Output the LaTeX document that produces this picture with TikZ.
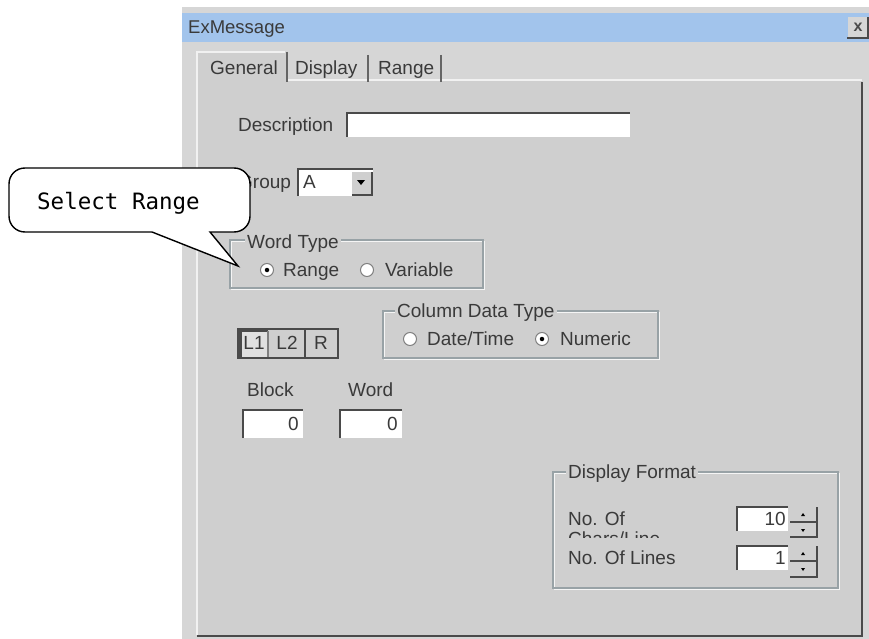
\documentclass[tikz,border=0pt]{standalone}
\usepackage{fontspec}
\setmainfont{Liberation Sans}
\newfontfamily\calloutfont{DejaVu Sans Mono}
\definecolor{framebg}{HTML}{D6D6D6}
\definecolor{panelbg}{HTML}{CFCFCF}
\definecolor{titlebar}{HTML}{A2C4EC}
\definecolor{uitext}{HTML}{3A3A3A}
\definecolor{groupline}{HTML}{98A2A6}
\definecolor{darkedge}{HTML}{4A4A4A}
\definecolor{midedge}{HTML}{808080}
\tikzset{
  uifont/.style={font=\fontsize{19}{19}\selectfont},
  lbl/.style={uifont, text=uitext, anchor=west, inner sep=0pt, text height=13.6pt, text depth=0pt},
  rlbl/.style={lbl, anchor=east},
  clbl/.style={lbl, anchor=center},
  grplbl/.style={lbl, fill=panelbg, inner xsep=2pt, inner ysep=0pt},
  grpbox/.style={draw=groupline, line width=1.2pt},
  grpshine/.style={draw=white!80!panelbg, line width=1pt},
  sunken/.style={draw=darkedge, line width=2pt},
  raised/.style={draw=darkedge, line width=1.5pt},
  radio/.style={circle, fill=white, draw=midedge, line width=1pt, minimum size=13pt, inner sep=0pt},
  radiodot/.style={circle, fill=black, inner sep=0pt, minimum size=4.5pt},
  tabsep/.style={draw=darkedge!85, line width=2pt},
  bubble/.style={draw=black, line width=1.4pt, fill=white},
}
\begin{document}
\begin{tikzpicture}[x=1pt,y=-1pt]
\useasboundingbox (0,0) rectangle (869,639);
\fill[white] (0,0) rectangle (869,639);
% dialog frame and title bar
\fill[framebg] (182,7) rectangle (869,639);
\fill[titlebar] (182,13) rectangle (869,42);
\node[lbl, font=\fontsize{18.5}{18.5}\selectfont] (title) at (188,27) {ExMessage};
% close button
\fill[framebg] (848,17) rectangle (868,38);
\draw[raised] (847,38) -- (868,38) -- (868,17);
\node[font=\bfseries\fontsize{16}{16}\selectfont, text=darkedge, inner sep=0pt] (closex) at (858,27) {x};

% tab panel
\fill[panelbg] (197,80) rectangle (862,635);
\fill[panelbg] (197,52) rectangle (287,82);
\draw[white!70!panelbg, line width=1.5pt] (197,635) -- (197,52) -- (285,52);
\draw[white!70!panelbg, line width=1.5pt] (287,80) -- (862,80);
\draw[darkedge, line width=2.5pt] (862,82) -- (862,636) -- (197,636);
\draw[tabsep] (287,52) -- (287,82);
\draw[tabsep] (368,55) -- (368,82);
\draw[tabsep] (441,55) -- (441,82);
\node[lbl] (tabgeneral) at (210,68) {General};
\node[lbl] (tabdisplay) at (295,68) {Display};
\node[lbl] (tabrange) at (378,68) {Range};

% Description
\node[lbl] (desclbl) at (238,125) {Description};
\fill[white] (347,113) rectangle (630,137);
\draw[sunken] (347,137) -- (347,113) -- (630,113);

% Group
\node[lbl] (grouplbl) at (238,182) {Group};
\fill[white] (298,169) rectangle (373,196);
\draw[sunken] (298,196) -- (298,169) -- (373,169);
\node[lbl] (groupval) at (303,182) {A};
\fill[panelbg] (352,172) rectangle (372,195);
\draw[raised] (352,195) -- (372,195) -- (372,172);
\fill[black] (357,180) -- (365,180) -- (361,185) -- cycle;

% Word Type
\draw[grpshine] (231,241) rectangle (484,289);
\draw[grpbox] (230,240) rectangle (483,288);
\node[grplbl] (wordtype) at (245,242) {Word Type};
\node[radio] (rrange) at (267,270) {};
\node[radiodot] (rrangedot) at (rrange.center) {};
\node[lbl] (rangelbl) at (283,270) {Range};
\node[radio] (rvar) at (367,270) {};
\node[lbl] (varlbl) at (385,270) {Variable};

% Column Data Type
\draw[grpshine] (384,312) rectangle (659,359);
\draw[grpbox] (383,311) rectangle (658,358);
\node[grplbl] (coltype) at (395,311) {Column Data Type};
\node[radio] (rdate) at (410,339) {};
\node[lbl] (datelbl) at (427,339) {Date/Time};
\node[radio] (rnum) at (542,339) {};
\node[radiodot] (rnumdot) at (rnum.center) {};
\node[lbl] (numlbl) at (560,339) {Numeric};

% L1 L2 R buttons
\fill[panelbg] (238,329) rectangle (338,358);
\fill[white!35!panelbg] (240,331) rectangle (268,357);
\draw[darkedge, line width=2pt] (238,329) rectangle (338,358);
\draw[darkedge, line width=3pt] (240.5,358) -- (240.5,330.5) -- (268,330.5);
\draw[darkedge!70, line width=1.5pt] (268,331) -- (268,357);
\draw[darkedge, line width=2.5pt] (305,329) -- (305,358);
\node[clbl] (bl1) at (254,343) {L1};
\node[clbl] (bl2) at (287,343) {L2};
\node[clbl] (br) at (321,343) {R};

% Block / Word
\node[lbl] (blocklbl) at (247,390) {Block};
\node[lbl] (wordlbl) at (348,390) {Word};
\fill[white] (243,410) rectangle (303,438);
\draw[sunken] (243,438) -- (243,410) -- (303,410);
\node[rlbl] (blockval) at (299,424) {0};
\fill[white] (340,410) rectangle (402,438);
\draw[sunken] (340,438) -- (340,410) -- (402,410);
\node[rlbl] (wordval) at (398,424) {0};

% Display Format
\draw[grpshine] (554,473) rectangle (839,589);
\draw[grpbox] (553,472) rectangle (838,588);
\node[grplbl] (dispfmt) at (566,472) {Display Format};
\node[lbl] (noof) at (568,519) {No. Of};
\begin{scope}
  \clip (560,529) rectangle (730,537);
  \node[lbl, text depth=0pt] (charsline) at (568,539) {Chars/Line};
\end{scope}
\node[lbl] (nolines) at (568,558) {No. Of Lines};
% spin box 1
\fill[white] (737,507) rectangle (788,531);
\draw[sunken] (737,531) -- (737,507) -- (788,507);
\node[rlbl] (spin1val) at (786,519) {10};
\fill[panelbg] (790,507) rectangle (817,537);
\draw[raised] (790,522) -- (817,522) -- (817,507);
\draw[raised] (790,537) -- (817,537) -- (817,522);
\fill[black] (801,516) -- (805,516) -- (803,513) -- cycle;
\fill[black] (801,529) -- (805,529) -- (803,532) -- cycle;
% spin box 2
\fill[white] (737,546) rectangle (788,570);
\draw[sunken] (737,570) -- (737,546) -- (788,546);
\node[rlbl] (spin2val) at (786,558) {1};
\fill[panelbg] (790,546) rectangle (817,577);
\draw[raised] (790,561) -- (817,561) -- (817,546);
\draw[raised] (790,577) -- (817,577) -- (817,561);
\fill[black] (801,555) -- (805,555) -- (803,552) -- cycle;
\fill[black] (801,568) -- (805,568) -- (803,571) -- cycle;

% callout
\coordinate (tip) at (238,266);
\draw[bubble] (25,168) -- (234,168) .. controls (243,168) and (250,175) .. (250,184)
  -- (250,216) .. controls (250,225) and (243,232) .. (234,232)
  -- (210,232) -- (tip) -- (152,232) -- (25,232)
  .. controls (16,232) and (9,225) .. (9,216) -- (9,184)
  .. controls (9,175) and (16,168) .. (25,168) -- cycle;
\node[font=\calloutfont\fontsize{22.5}{22.5}\selectfont, anchor=west, inner sep=0pt] (callouttext) at (37,203) {Select Range};
\end{tikzpicture}
\end{document}
